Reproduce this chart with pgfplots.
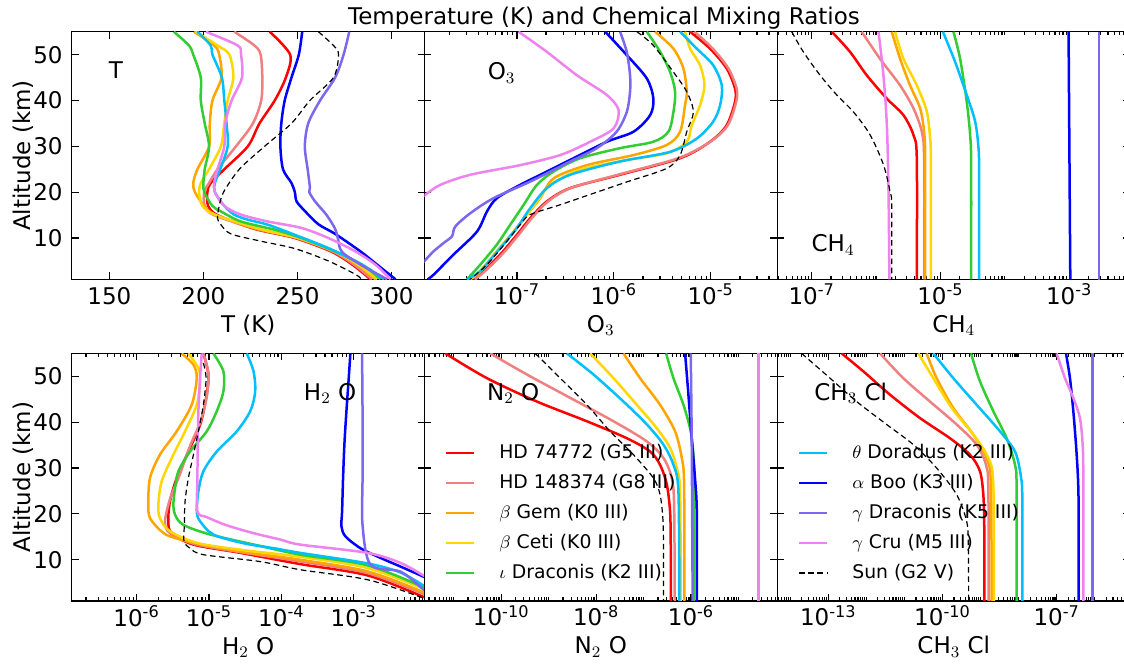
\documentclass[border=0pt]{standalone}
\usepackage{fontspec}
\setmainfont{DejaVu Sans}
\usepackage{pgfplots}
\pgfplotsset{compat=1.18}

\definecolor{mred}{RGB}{255,0,0}
\definecolor{mcoral}{RGB}{240,128,128}
\definecolor{morange}{RGB}{255,165,0}
\definecolor{mgold}{RGB}{255,215,0}
\definecolor{mlime}{RGB}{50,205,50}
\definecolor{msky}{RGB}{0,191,255}
\definecolor{mblue}{RGB}{0,0,255}
\definecolor{mslate}{RGB}{123,104,238}
\definecolor{mviolet}{RGB}{238,130,238}

\newcommand{\ex}[1]{10\textsuperscript{#1}}
\newcommand{\lblfont}{\fontsize{11.5}{13}\selectfont}

% minor ticks m x 10^e that fall inside (lo, hi) in log10
\newcommand{\mkminor}[3]{%
  \gdef#1{}%
  \foreach \e in {-15,...,-2} {\foreach \m in {1,...,9} {%
    \pgfmathtruncatemacro\ok{((log10(\m)+\e > #2) && (log10(\m)+\e < #3)) ? 1 : 0}%
    \ifnum\ok=1 \ifx#1\empty\xdef#1{\m e\e}\else\xdef#1{#1,\m e\e}\fi\fi}}%
}
\mkminor{\minO}{-7.95}{-4.32}
\mkminor{\minC}{-7.53}{-2.06}
\mkminor{\minH}{-6.89}{-2.03}
\mkminor{\minN}{-11.62}{-4.19}
\mkminor{\minL}{-14.34}{-5.07}

\pgfplotsset{
  panel/.style={
    scale only axis, width=176.5pt, height=123.8pt,
    ymin=1, ymax=55, ytick={10,20,30,40,50},
    tick align=inside, major tick length=3.5pt, minor tick length=1.8pt,
    axis line style={line width=0.75pt},
    every tick/.style={black, line width=0.6pt},
    tick label style={font=\lblfont},
    label style={font=\lblfont},
    /pgf/number format/assume math mode=true,
    xticklabel style={anchor=base, yshift=-12.5pt},
    yticklabel style={xshift=-1pt},
    xlabel style={at={(axis description cs:0.5,0)}, anchor=base, yshift=-26.5pt},
    legend style={draw=none, fill=none, inner sep=0pt, column sep=10pt, row sep=2.35pt,
      font=\fontsize{9.4}{11}\selectfont, cells={anchor=west},
      at={(axis description cs:0.057,0.65)}, anchor=north west},
    legend image code/.code={\draw[#1] (0pt,0pt) -- (14pt,0pt);},
  },
  leftcol/.style={ylabel={Altitude (km)},
    ylabel style={at={(axis description cs:-0.116,0.5)}, anchor=base}},
  nolab/.style={yticklabels={}},
  s1/.style={color=mred, line width=1.25pt, smooth, tension=0.5},
  s2/.style={color=mcoral, line width=1.25pt, smooth, tension=0.5},
  s3/.style={color=morange, line width=1.25pt, smooth, tension=0.5},
  s4/.style={color=mgold, line width=1.25pt, smooth, tension=0.5},
  s5/.style={color=mlime, line width=1.25pt, smooth, tension=0.5},
  s6/.style={color=msky, line width=1.25pt, smooth, tension=0.5},
  s7/.style={color=mblue, line width=1.25pt, smooth, tension=0.5},
  s8/.style={color=mslate, line width=1.25pt, smooth, tension=0.5},
  s9/.style={color=mviolet, line width=1.25pt, smooth, tension=0.5},
  s10/.style={color=black, line width=0.6pt, dash pattern=on 2.8pt off 1.8pt, smooth, tension=0.5},
}

\begin{document}
\begin{tikzpicture}
\path[use as bounding box] (0,0) rectangle (562pt,332pt);

% ---------- T ----------
\begin{axis}[panel, leftcol, at={(35.85pt,192.35pt)}, anchor=south west,
  xmin=130, xmax=317.6, xtick={150,200,250,300}, xlabel={T (K)}]
\addplot[s1] coordinates {(235.2,55) (246.1,50) (243.8,45) (237.9,40) (229.8,35) (223.6,30) (211.1,25) (203.9,22) (202.1,20) (202.5,17) (207.5,15) (227.1,12) (248.6,10) (268.2,7) (279.8,4) (288.8,1)};
\addplot[s2] coordinates {(216.4,55) (227.1,52) (230.4,50) (231.3,45) (230.7,40) (226.3,35) (217.3,30) (207.5,25) (203,22) (200.4,20) (200.7,17) (205.7,15) (228,12) (249.5,10) (269.1,7) (280.7,4) (289.6,1)};
\addplot[s3] coordinates {(195,55) (205.7,52) (208.4,50) (209.6,45) (204.8,40) (203.4,35) (203,30) (196.8,25) (194.6,22) (195.5,20) (200.4,17) (206.6,15) (228.9,12) (250.4,10) (270,7) (282.5,4) (291.4,1)};
\addplot[s4] coordinates {(195.9,55) (207.5,52) (213.8,50) (215.9,45) (212.9,40) (211.1,35) (209.3,30) (203,25) (198.6,22) (197.7,20) (199.5,17) (206.6,15) (229.8,12) (250.7,10) (270.4,7) (282.9,4) (292.3,1)};
\addplot[s5] coordinates {(184.3,55) (192.3,52) (194.6,50) (198.6,45) (198.6,40) (200.7,35) (203,30) (200.7,25) (200,22) (200.4,20) (204.8,17) (209.3,15.8) (220,13.6) (237.9,11.8) (252.1,10) (270,7.1) (284.3,4.2) (294.1,1)};
\addplot[s6] coordinates {(196.8,55) (203.9,52) (204.8,50) (209.8,45) (211.1,40) (212.3,35) (212.9,30) (208.9,25) (206.1,22) (206.1,20) (211.1,17) (216.4,15.1) (223.6,14) (234.3,12.9) (248.6,10.7) (266.4,7.8) (284.3,4.2) (296,1)};
\addplot[s7] coordinates {(252.5,55) (250.7,50) (246.8,45) (243.2,40) (241.4,35) (240.9,30) (242.3,25) (246.8,22) (248.6,20) (249.5,18) (253.9,15.9) (261.1,13) (270,10.9) (283.4,7.1) (292.3,4.2) (302.1,1)};
\addplot[s8] coordinates {(277.5,55) (274.5,50) (270,45) (262,40) (255.7,35) (253.9,30) (255.4,25) (256.6,21) (256.3,20) (259.3,18) (265.5,15) (270,12) (271.4,10) (273.6,7) (284.3,4) (297.7,1)};
\addplot[s9] coordinates {(201.3,55) (218.2,52) (220,50) (220.5,45) (215,40) (211.6,35) (211.1,30) (207.5,25) (205.7,22) (206.1,20) (211.1,17) (220,15.1) (234.3,13.6) (252.1,12.2) (266.4,10) (280.7,7.1) (291.4,4.2) (299.5,1)};
\addplot[s10] coordinates {(261.1,55) (269.1,52) (271.8,50) (269.1,45) (256.6,40) (246.8,35) (232.5,30) (219.1,25) (210.7,20) (208.4,17) (207.5,14.3) (209.3,12.9) (214.6,10.9) (230.7,9.3) (248.6,7.7) (266.4,5) (280.7,2.1) (284,1)};
\node[font=\lblfont, anchor=base] at (rel axis cs:0.125,0.812) {T};
\end{axis}

% ---------- O3 ----------
\begin{axis}[panel, xmode=log, nolab, at={(212.15pt,192.35pt)}, anchor=south west,
  xmin=1.107e-8, xmax=4.86e-5, xtick={1e-7,1e-6,1e-5}, minor xtick/.expanded={\minO},
  xticklabels={\ex{-7},\ex{-6},\ex{-5}}, xlabel={O$_3$},
  title={Temperature (K) and Chemical Mixing Ratios},
  title style={at={(axis description cs:0.509,1)}, anchor=base, yshift=-2.6pt, font=\lblfont}]
\addplot[s1] coordinates {(6.12e-6,55) (9.84e-6,51.3) (1.46e-5,47.0) (1.78e-5,42.6) (1.78e-5,39.7) (1.46e-5,34.6) (9.84e-6,31.0) (4.83e-6,27.4) (1.16e-6,23.8) (3.55e-7,20.9) (2.04e-7,18.0) (1.37e-7,14.3) (1.0e-7,10.7) (6.73e-8,6.4) (4.53e-8,2.8) (3.57e-8,1)};
\addplot[s2] coordinates {(6.8e-6,55) (1.05e-5,51.3) (1.52e-5,47.0) (1.85e-5,42.6) (1.83e-5,39.7) (1.5e-5,34.6) (9.9e-6,31.0) (4.6e-6,27.4) (1.1e-6,23.8) (3.6e-7,20.9) (2.1e-7,18.0) (1.42e-7,14.3) (1.04e-7,10.7) (7.0e-8,6.4) (4.7e-8,2.8) (3.7e-8,1)};
\addplot[s3] coordinates {(2.67e-6,55) (4.12e-6,51.3) (5.22e-6,47.0) (5.66e-6,41.9) (5.43e-6,39.0) (4.83e-6,33.2) (3.52e-6,30.3) (1.60e-6,28.1) (5.27e-7,25.9) (2.39e-7,23.0) (1.74e-7,18.7) (1.27e-7,15.1) (9.25e-8,11.4) (6.22e-8,7.1) (4.19e-8,2.8) (3.30e-8,1)};
\addplot[s4] coordinates {(5.43e-6,55) (6.12e-6,51.3) (7.76e-6,47.7) (8.61e-6,43.3) (7.76e-6,39.0) (6.37e-6,34.6) (5.66e-6,31.0) (3.52e-6,28.5) (1.36e-6,27.0) (4.50e-7,24.9) (2.21e-7,21.6) (1.61e-7,18.0) (1.27e-7,15.1) (9.25e-8,11.4) (6.22e-8,7.1) (4.19e-8,2.8) (3.30e-8,1)};
\addplot[s5] coordinates {(2.19e-6,55) (3.01e-6,50.6) (3.81e-6,46.2) (4.29e-6,41.9) (4.12e-6,37.5) (3.66e-6,33.2) (2.56e-6,31.0) (1.16e-6,29.6) (4.50e-7,27.4) (2.39e-7,24.5) (1.61e-7,21.6) (1.17e-7,17.2) (8.53e-8,12.9) (6.22e-8,8.6) (4.19e-8,4.2) (3.05e-8,1)};
\addplot[s6] coordinates {(4.83e-6,55) (7.18e-6,51.3) (1.06e-5,47.7) (1.30e-5,43.3) (1.25e-5,39.0) (1.06e-5,35.4) (7.18e-6,31.7) (3.81e-6,28.8) (1.16e-6,26.7) (3.55e-7,23.8) (2.04e-7,20.9) (1.37e-7,16.5) (1.0e-7,12.2) (6.73e-8,7.8) (4.19e-8,2.8) (3.05e-8,1)};
\addplot[s7] coordinates {(8.15e-7,55) (1.36e-6,49.9) (2.19e-6,44.8) (2.56e-6,40.4) (2.37e-6,36.8) (1.60e-6,33.2) (8.47e-7,31.0) (3.84e-7,27.4) (2.04e-7,24.5) (1.08e-7,21.6) (6.22e-8,18.7) (4.91e-8,15.8) (3.87e-8,11.4) (2.22e-8,6.4) (1.38e-8,2.0) (1.2e-8,1)};
\addplot[s8] coordinates {(1.16e-6,55) (1.36e-6,50.6) (1.47e-6,45.5) (1.47e-6,41.9) (1.36e-6,37.5) (1.07e-6,33.2) (6.68e-7,29.6) (3.55e-7,26.7) (1.37e-7,22.3) (5.74e-8,18.7) (3.30e-8,15.4) (2.31e-8,12.5) (2.14e-8,10.4) (1.75e-8,8.9) (1.38e-8,7.1) (1.09e-8,4.8) (1.0e-8,4.0)};
\addplot[s9] coordinates {(1.04e-7,55) (2.04e-7,50.6) (4.16e-7,45.5) (8.47e-7,41.2) (1.12e-6,37.9) (9.93e-7,33.9) (5.70e-7,31.0) (2.80e-7,28.1) (1.08e-7,25.9) (3.30e-8,23.8) (1.62e-8,21.6) (1.13e-8,19.4) (1.0e-8,18.5)};
\addplot[s10] coordinates {(1.73e-6,55) (2.56e-6,52.0) (4.12e-6,46.2) (5.66e-6,41.9) (6.62e-6,37.5) (5.66e-6,33.2) (4.83e-6,28.1) (3.52e-6,25.2) (1.39e-6,22.3) (5.52e-7,19.4) (2.75e-7,17.2) (1.37e-7,15.1) (1.08e-7,12.9) (7.89e-8,9.3) (4.91e-8,4.2) (3.30e-8,1)};
\node[font=\lblfont, anchor=base] at (rel axis cs:0.219,0.805) {O$_3$};
\end{axis}

% ---------- CH4 ----------
\begin{axis}[panel, xmode=log, nolab, at={(388.65pt,192.35pt)}, anchor=south west,
  xmin=2.92e-8, xmax=8.89e-3, xtick={1e-7,1e-5,1e-3}, minor xtick/.expanded={\minC},
  xticklabels={\ex{-7},\ex{-5},\ex{-3}}, xlabel={CH$_4$}]
\addplot[s1] coordinates {(2.05e-7,55) (3.94e-7,50.6) (7.16e-7,45.5) (1.47e-6,40.4) (2.66e-6,36.8) (3.80e-6,32.5) (4.29e-6,27.4) (4.29e-6,1)};
\addplot[s2] coordinates {(5.98e-7,55) (1.15e-6,49.1) (2.36e-6,43.3) (3.80e-6,38.3) (5.13e-6,33.2) (5.57e-6,27.4) (5.57e-6,1)};
\addplot[s3] coordinates {(1.75e-6,55) (2.36e-6,49.1) (3.37e-6,43.3) (4.83e-6,38.3) (5.57e-6,33.2) (5.78e-6,27.4) (5.78e-6,1)};
\addplot[s4] coordinates {(1.97e-6,55) (2.66e-6,49.1) (4.29e-6,43.3) (6.14e-6,37.6) (6.90e-6,31.8) (7.08e-6,27.4) (7.08e-6,1)};
\addplot[s5] coordinates {(1.59e-5,55) (2.02e-5,49.1) (2.56e-5,39.7) (2.89e-5,32.5) (3.00e-5,26.0) (3.00e-5,1)};
\addplot[s6] coordinates {(1.09e-5,55) (1.69e-5,48.4) (2.56e-5,41.2) (3.46e-5,35.4) (3.90e-5,29.6) (3.99e-5,23.8) (3.99e-5,1)};
\addplot[s7] coordinates {(9.77e-4,55) (1.04e-3,1)};
\addplot[s8] coordinates {(2.92e-3,55) (2.92e-3,1)};
\addplot[s9] coordinates {(1.09e-6,55) (1.30e-6,45.5) (1.47e-6,34.6) (1.56e-6,20.1) (1.61e-6,1)};
\addplot[s10] coordinates {(4.89e-8,55) (7.41e-8,50.6) (1.35e-7,45.5) (2.45e-7,41.2) (4.45e-7,37.5) (8.07e-7,32.5) (1.30e-6,26.0) (1.65e-6,20.1) (1.75e-6,17.2) (1.75e-6,1)};
\node[font=\lblfont, anchor=base] at (rel axis cs:0.158,0.111) {CH$_4$};
\end{axis}

% ---------- H2O ----------
\begin{axis}[panel, xmode=log, leftcol, at={(35.85pt,31.5pt)}, anchor=south west,
  xmin=1.27e-7, xmax=9.53e-3, xtick={1e-6,1e-5,1e-4,1e-3}, minor xtick/.expanded={\minH},
  xticklabels={\ex{-6},\ex{-5},\ex{-4},\ex{-3}}, xlabel={H$_2$ O}]
\addplot[s1] coordinates {(8.37e-6,55) (9.82e-6,50.3) (9.12e-6,45.2) (7.53e-6,39.4) (5.19e-6,33.6) (3.58e-6,27.8) (2.89e-6,22.7) (2.74e-6,18.4) (3.05e-6,15.8) (6.10e-6,13.3) (2.70e-5,11.5) (1.82e-4,9.05) (1.55e-3,6.58) (9.82e-3,1.71) (1.2e-2,1)};
\addplot[s2] coordinates {(8.37e-6,55) (9.82e-6,50.6) (9.31e-6,45.5) (7.53e-6,39.9) (5.47e-6,34.8) (3.98e-6,28.7) (2.89e-6,23.2) (2.47e-6,18.3) (2.89e-6,15.8) (6.43e-6,13.4) (2.84e-5,11.6) (1.82e-4,9.64) (1.55e-3,7.09) (9.82e-3,2.36) (1.3e-2,1)};
\addplot[s3] coordinates {(4.20e-6,55) (6.10e-6,52.5) (6.78e-6,49.6) (5.77e-6,43.8) (3.58e-6,38.0) (2.10e-6,32.9) (1.53e-6,27.8) (1.45e-6,22.0) (1.53e-6,19.1) (2.10e-6,16.5) (2.89e-6,15.1) (7.53e-6,13.4) (3.33e-5,11.6) (1.82e-4,10.0) (1.55e-3,7.45) (9.82e-3,2.73) (1.3e-2,1.4)};
\addplot[s4] coordinates {(5.19e-6,55) (7.14e-6,51.8) (7.53e-6,48.9) (6.78e-6,43.8) (4.67e-6,38.0) (3.22e-6,32.9) (2.22e-6,27.1) (2.00e-6,22.0) (2.10e-6,19.1) (2.89e-6,16.2) (7.14e-6,13.6) (3.33e-5,12.0) (1.82e-4,10.65) (1.55e-3,8.18) (9.82e-3,3.45) (1.3e-2,2.0)};
\addplot[s5] coordinates {(1.15e-5,55) (1.58e-5,51.1) (1.58e-5,46.7) (1.28e-5,42.4) (9.31e-6,38.0) (5.47e-6,33.6) (3.78e-6,29.3) (3.40e-6,25.6) (3.22e-6,22.0) (3.40e-6,19.8) (4.43e-6,17.6) (1.04e-5,15.5) (5.09e-5,13.0) (1.82e-4,11.1) (1.55e-3,8.76) (9.82e-3,3.82) (1.3e-2,2.5)};
\addplot[s6] coordinates {(3.33e-5,55) (4.12e-5,51.1) (4.35e-5,46.7) (3.71e-5,42.4) (2.42e-5,38.0) (1.28e-5,33.6) (8.37e-6,29.3) (7.14e-6,24.9) (6.78e-6,20.5) (7.53e-6,18.4) (1.15e-5,15.5) (3.00e-5,13.6) (8.67e-5,12.4) (1.82e-4,11.5) (1.55e-3,9.2) (4.43e-3,7.2) (9.82e-3,4.1) (1.3e-2,3)};
\addplot[s7] coordinates {(8.97e-4,55) (8.51e-4,49.6) (7.91e-4,42.4) (7.41e-4,35.1) (7.11e-4,27.8) (6.89e-4,20.5) (6.75e-4,17.3) (7.66e-4,15.1) (1.24e-3,12.5) (2.34e-3,10.4) (4.43e-3,8.5) (9.2e-3,6.3) (1.2e-2,5.5)};
\addplot[s8] coordinates {(1.30e-3,55) (1.32e-3,42.4) (1.32e-3,27.8) (1.32e-3,17.6) (1.70e-3,8.9) (4.43e-3,7.4) (9.2e-3,3.5) (1.2e-2,2.5)};
\addplot[s9] coordinates {(7.94e-6,55) (7.53e-6,49.6) (7.14e-6,42.4) (7.00e-6,35.1) (6.92e-6,27.8) (6.92e-6,20.5) (9.31e-6,19.3) (1.76e-5,17.5) (4.12e-5,15.8) (9.64e-5,14.4) (1.82e-4,13.3) (1.55e-3,11.5) (4.43e-3,9.3) (9.82e-3,6.3) (1.3e-2,5.5)};
\addplot[s10] coordinates {(8.37e-6,52.9) (9.12e-6,49.6) (8.37e-6,43.8) (7.14e-6,38.0) (6.10e-6,32.9) (5.19e-6,27.8) (4.67e-6,22.7) (4.57e-6,17.6) (4.52e-6,14.0) (5.47e-6,12.5) (8.37e-6,11.1) (5.09e-5,9.6) (1.82e-4,7.82) (1.55e-3,5.64) (9.31e-3,1.6) (1.2e-2,0.8)};
\node[font=\lblfont, anchor=base] at (rel axis cs:0.732,0.811) {H$_2$ O};
\end{axis}

% ---------- N2O ----------
\begin{axis}[panel, xmode=log, nolab, at={(212.15pt,31.5pt)}, anchor=south west,
  xmin=2.39e-12, xmax=6.56e-5, xtick={1e-10,1e-8,1e-6}, minor xtick/.expanded={\minN},
  xticklabels={\ex{-10},\ex{-8},\ex{-6}}, xlabel={N$_2$ O}]
\addplot[s1] coordinates {(6.62e-12,55) (4.99e-11,49.6) (5.64e-10,44.5) (6.37e-9,40.2) (4.43e-8,36.5) (1.37e-7,33.6) (2.22e-7,30.7) (3.08e-7,26.4) (3.61e-7,20.5) (3.73e-7,13.3) (3.73e-7,1)};
\addlegendentry{HD 74772 (G5 III)}
\addplot[s2] coordinates {(5.86e-11,55) (3.47e-10,50.4) (2.84e-9,45.3) (2.32e-8,40.2) (1.17e-7,35.8) (2.62e-7,32.2) (3.92e-7,27.8) (4.39e-7,22.0) (4.53e-7,1)};
\addlegendentry{HD 148374 (G8 III)}
\addplot[s3] coordinates {(3.76e-8,55) (8.43e-8,49.6) (2.22e-7,43.8) (4.60e-7,38.0) (6.37e-7,32.2) (7.13e-7,26.4) (7.24e-7,1)};
\addlegendentry{$\beta$ Gem (K0 III)}
\addplot[s4] coordinates {(7.48e-9,55) (2.32e-8,49.6) (7.18e-8,43.8) (1.89e-7,38.7) (3.61e-7,34.4) (4.99e-7,30.0) (5.86e-7,24.9) (6.05e-7,1)};
\addlegendentry{$\beta$ Ceti (K0 III)}
\addplot[s5] coordinates {(2.98e-7,55) (4.25e-7,49.6) (6.90e-7,43.8) (9.84e-7,38.0) (1.12e-6,32.9) (1.16e-6,27.8) (1.16e-6,1)};
\addlegendentry{$\iota$ Draconis (K2 III)}
\addplot[s6, forget plot] coordinates {(2.41e-9,55) (8.79e-9,50.4) (3.76e-8,44.5) (1.17e-7,39.5) (2.62e-7,35.1) (4.25e-7,30.7) (5.41e-7,24.9) (5.68e-7,1)};
\addplot[s7, forget plot] coordinates {(7.48e-7,55) (8.79e-7,46.0) (1.03e-6,36.5) (1.21e-6,27.8) (1.32e-6,20.5) (1.32e-6,1)};
\addplot[s8, forget plot] coordinates {(9.84e-7,55) (1.03e-6,36.5) (1.08e-6,1)};
\addplot[s9, forget plot] coordinates {(2.62e-5,55) (2.62e-5,1)};
\addplot[s10, forget plot] coordinates {(5.20e-10,55) (1.75e-9,49.6) (6.37e-9,43.8) (1.97e-8,38.0) (6.11e-8,32.9) (1.61e-7,27.8) (2.22e-7,24.2) (2.54e-7,19.1) (2.62e-7,13.3) (2.62e-7,1)};
\node[font=\lblfont, anchor=base] at (rel axis cs:0.252,0.811) {N$_2$ O};
\end{axis}

% ---------- CH3Cl ----------
\begin{axis}[panel, xmode=log, nolab, at={(388.65pt,31.5pt)}, anchor=south west,
  xmin=4.57e-15, xmax=8.57e-6, xtick={1e-13,1e-10,1e-7}, minor xtick/.expanded={\minL},
  xticklabels={\ex{-13},\ex{-10},\ex{-7}}, xlabel={CH$_3$ Cl}]
\addplot[s1, forget plot] coordinates {(2.24e-13,55) (8.30e-13,51.1) (4.17e-12,46.0) (2.56e-11,40.9) (1.57e-10,36.5) (5.27e-10,32.9) (9.64e-10,29.3) (1.18e-9,24.2) (1.25e-9,16.9) (1.25e-9,1)};
\addplot[s2, forget plot] coordinates {(2.28e-12,55) (9.33e-12,49.6) (4.69e-11,44.5) (2.35e-10,39.5) (7.89e-10,35.1) (1.39e-9,30.7) (1.60e-9,25.6) (1.63e-9,1)};
\addplot[s3, forget plot] coordinates {(3.83e-11,55) (7.01e-11,49.6) (1.92e-10,43.1) (6.44e-10,37.3) (1.44e-9,32.2) (1.87e-9,26.4) (1.95e-9,1)};
\addplot[s4, forget plot] coordinates {(2.31e-11,55) (5.73e-11,49.6) (1.74e-10,43.1) (6.44e-10,37.3) (1.60e-9,32.2) (2.16e-9,26.4) (2.25e-9,1)};
\addplot[s5, forget plot] coordinates {(5.60e-10,55) (9.64e-10,48.9) (2.16e-9,42.4) (4.84e-9,36.5) (8.02e-9,30.7) (8.85e-9,25.6) (8.85e-9,1)};
\addplot[s6] coordinates {(5.73e-11,55) (1.92e-10,49.6) (7.89e-10,43.8) (3.24e-9,38.0) (8.02e-9,33.6) (1.13e-8,28.5) (1.25e-8,23.5) (1.25e-8,1)};
\addlegendentry{$\theta$ Doradus (K2 III)}
\addplot[s7] coordinates {(1.75e-7,55) (2.23e-7,49.6) (2.73e-7,42.4) (3.21e-7,35.1) (3.62e-7,27.8) (3.77e-7,20.5) (3.77e-7,1)};
\addlegendentry{$\alpha$ Boo (K3 III)}
\addplot[s8] coordinates {(8.61e-7,55) (8.61e-7,1)};
\addlegendentry{$\gamma$ Draconis (K5 III)}
\addplot[s9] coordinates {(9.95e-8,55) (1.65e-7,49.6) (2.73e-7,45.3) (4.08e-7,40.9) (4.80e-7,35.1) (5.00e-7,27.8) (5.00e-7,1)};
\addlegendentry{$\gamma$ Cru (M5 III)}
\addplot[s10] coordinates {(1.99e-14,55) (1.11e-13,49.6) (5.55e-13,44.5) (3.40e-12,39.5) (1.71e-11,35.1) (7.01e-11,30.0) (2.35e-10,24.2) (4.31e-10,18.4) (4.76e-10,13.3) (4.86e-10,1)};
\addlegendentry{Sun (G2 V)}
\node[font=\lblfont, anchor=base] at (rel axis cs:0.208,0.811) {CH$_3$ Cl};
\end{axis}
\end{tikzpicture}
\end{document}
